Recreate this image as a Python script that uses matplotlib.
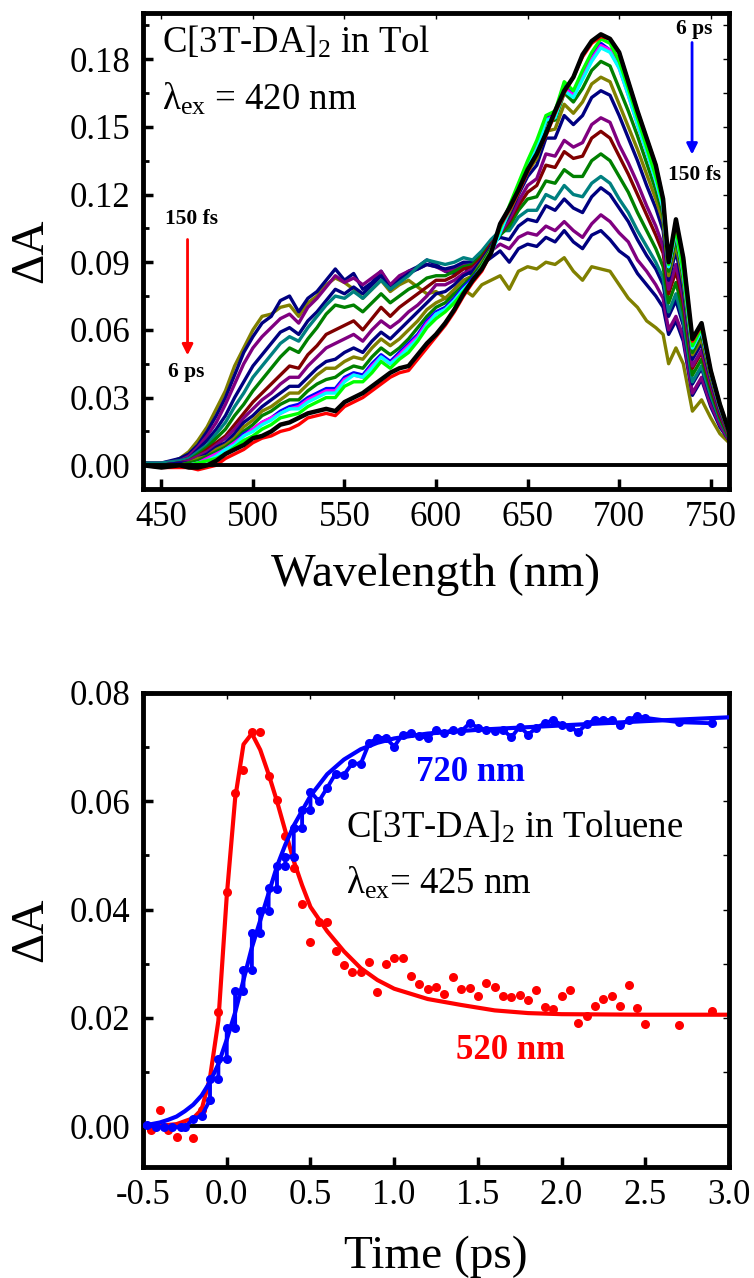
import matplotlib
matplotlib.use('Agg')
import matplotlib.pyplot as plt
from matplotlib.ticker import MultipleLocator, FormatStrFormatter

plt.rcParams['font.family'] = ['Liberation Serif', 'DejaVu Serif']
plt.rcParams['mathtext.fontset'] = 'custom'
plt.rcParams['mathtext.rm'] = 'Liberation Serif'
plt.rcParams['mathtext.it'] = 'Liberation Serif:italic'
plt.rcParams['axes.unicode_minus'] = False

# ---------------- transient spectra (top), values in mOD ----------------
wavelengths = [440, 450, 460, 465, 470, 475, 480, 485, 490, 495,
               500, 505, 510, 515, 520, 525, 530, 535, 540, 545,
               550, 555, 560, 565, 570, 575, 580, 585, 590, 595,
               600, 605, 610, 615, 620, 625, 630, 635, 640, 645,
               650, 655, 660, 665, 670, 675, 680, 685, 690, 695,
               700, 705, 710, 715, 720, 724, 727, 731, 735, 740, 745, 750, 755, 760]

s01_olive = [1, 0, 3, 6, 11, 17, 25, 33, 44, 52,
             60, 66, 67, 70, 71, 66, 72, 75, 80, 83,
             81, 78, 74, 78, 82, 77, 80, 82, 79, 76,
             77, 74, 76, 78, 75, 80, 82, 84, 78, 86,
             88, 87, 90, 89, 92, 86, 82, 88, 87, 86,
             80, 74, 70, 64, 61, 58, 45, 52, 45, 24, 29, 21, 14, 10]
s02_navy = [1, 1, 3, 5, 9, 15, 22, 30, 40, 50,
            57, 63, 66, 73, 75, 68, 74, 77, 82, 87,
            82, 85, 78, 81, 86, 79, 83, 86, 88, 91,
            89, 86, 85, 88, 84, 89, 92, 95, 90, 96,
            98, 97, 101, 99, 104, 99, 96, 102, 104, 100,
            95, 92, 85, 80, 75, 70, 58, 64, 55, 31, 38, 26, 17, 11]
s03_purple = [1, 1, 2, 4, 8, 13, 19, 27, 36, 45,
              52, 57, 61, 65, 67, 63, 70, 74, 79, 84,
              81, 83, 80, 83, 86, 80, 84, 86, 87, 89,
              88, 86, 87, 89, 88, 91, 95, 98, 96, 101,
              103, 102, 106, 104, 108, 104, 101, 107, 111, 108,
              103, 99, 91, 86, 80, 74, 60, 66, 57, 32, 39, 27, 18, 11]
s04_navy = [1, 0, 2, 3, 7, 11, 16, 22, 30, 37,
            44, 49, 54, 59, 61, 58, 64, 68, 73, 78,
            76, 79, 76, 80, 84, 78, 82, 85, 87, 89,
            88, 87, 88, 90, 90, 93, 98, 101, 100, 106,
            109, 108, 115, 113, 118, 114, 112, 119, 123, 120,
            114, 108, 100, 93, 87, 80, 66, 73, 62, 36, 43, 30, 20, 12]
s05_teal = [1, 1, 2, 3, 6, 9, 14, 19, 26, 32,
            39, 44, 49, 54, 57, 55, 61, 66, 71, 75,
            74, 77, 74, 78, 82, 78, 81, 84, 88, 91,
            90, 89, 90, 92, 91, 95, 100, 104, 104, 110,
            113, 113, 120, 118, 124, 120, 119, 125, 128, 125,
            118, 112, 104, 97, 90, 83, 68, 76, 64, 37, 44, 31, 20, 12]
s06_green = [0, 0, 1, 2, 5, 8, 12, 16, 22, 27,
             33, 38, 43, 48, 52, 50, 56, 61, 67, 71,
             70, 71, 68, 72, 76, 72, 75, 78, 80, 83,
             84, 84, 86, 88, 89, 93, 98, 102, 106, 113,
             118, 119, 126, 125, 131, 128, 128, 135, 138, 135,
             128, 121, 112, 104, 96, 88, 72, 81, 68, 40, 47, 33, 21, 12]
s07_wine = [0, 0, 1, 2, 4, 7, 10, 13, 18, 23,
            28, 32, 36, 40, 44, 43, 49, 53, 58, 60,
            62, 64, 60, 65, 70, 66, 70, 73, 76, 79,
            82, 82, 84, 87, 88, 92, 98, 103, 108, 115,
            121, 124, 133, 132, 139, 136, 137, 145, 148, 145,
            137, 129, 120, 111, 102, 94, 76, 86, 72, 43, 50, 35, 22, 13]
s08_purple = [0, 0, 1, 2, 4, 6, 9, 12, 16, 21,
              25, 29, 32, 36, 39, 39, 44, 48, 52, 54,
              56, 58, 55, 60, 64, 61, 64, 68, 71, 75,
              80, 80, 82, 85, 87, 91, 97, 103, 109, 117,
              124, 127, 138, 137, 144, 141, 143, 151, 154, 152,
              142, 134, 125, 115, 106, 97, 78, 89, 74, 44, 51, 36, 23, 13]
s09_navy = [0, 0, 1, 1, 3, 5, 8, 10, 14, 19,
            22, 26, 29, 32, 35, 35, 39, 43, 46, 47,
            50, 52, 50, 55, 59, 56, 60, 64, 68, 72,
            76, 77, 80, 84, 86, 91, 97, 104, 111, 120,
            128, 133, 145, 145, 155, 151, 155, 163, 166, 164,
            155, 145, 135, 124, 114, 104, 82, 95, 78, 47, 54, 38, 24, 14]
s10_olive = [0, 0, 0, 1, 3, 4, 7, 9, 12, 17,
             20, 24, 26, 29, 32, 32, 36, 40, 43, 43,
             46, 48, 47, 52, 56, 53, 56, 60, 64, 69,
             72, 74, 78, 82, 84, 90, 96, 104, 112, 121,
             130, 136, 148, 149, 160, 156, 161, 169, 172, 170,
             160, 150, 140, 129, 118, 108, 84, 98, 81, 49, 56, 39, 25, 14]
s11_green = [0, 0, 0, 1, 2, 4, 6, 8, 11, 15,
             18, 22, 24, 27, 29, 29, 33, 36, 38, 39,
             42, 44, 43, 48, 52, 49, 52, 56, 61, 66,
             70, 72, 76, 80, 84, 89, 96, 104, 113, 122,
             132, 139, 152, 153, 165, 161, 167, 175, 179, 177,
             167, 157, 146, 134, 122, 111, 86, 101, 83, 50, 58, 40, 26, 14]
s12_blue = [0, 0, 0, 0, 1, 3, 5, 7, 10, 14,
            16, 19, 21, 24, 26, 27, 30, 32, 34, 34,
            39, 41, 40, 45, 49, 46, 50, 54, 58, 64,
            68, 70, 74, 79, 83, 88, 95, 104, 114, 123,
            133, 141, 154, 155, 168, 164, 172, 181, 187, 184,
            177, 165, 152, 140, 127, 115, 88, 104, 85, 52, 60, 41, 26, 15]
s13_magenta = [0, 0, 0, 0, 1, 3, 5, 7, 10, 13,
               16, 19, 21, 23, 25, 26, 29, 31, 33, 33,
               38, 40, 39, 44, 48, 45, 49, 53, 57, 63,
               67, 69, 73, 78, 82, 88, 95, 104, 114, 123,
               133, 141, 153, 155, 167, 164, 172, 180, 186, 184,
               176, 164, 151, 139, 126, 114, 88, 104, 85, 52, 60, 41, 26, 15]
s14_cyan = [0, 0, 0, 0, 1, 2, 4, 7, 9, 13,
            15, 18, 20, 23, 25, 25, 28, 30, 32, 32,
            37, 40, 39, 43, 48, 45, 48, 52, 56, 62,
            67, 69, 73, 78, 82, 87, 94, 103, 113, 123,
            133, 140, 153, 154, 166, 163, 171, 179, 185, 183,
            176, 164, 151, 139, 126, 114, 88, 104, 85, 52, 60, 41, 26, 15]
s15_lime = [0, 0, 0, 0, 1, 2, 3, 5, 8, 11,
            13, 16, 18, 21, 22, 23, 26, 28, 30, 30,
            35, 37, 37, 41, 46, 43, 47, 50, 55, 61,
            65, 68, 72, 77, 82, 88, 95, 105, 115, 125,
            135, 144, 155, 157, 170, 166, 175, 183, 189, 187,
            179, 167, 154, 141, 128, 116, 89, 105, 86, 53, 61, 42, 27, 15]
s16_red = [0, -1, -1, -1, -2, -1, 0, 3, 5, 7,
           10, 12, 13, 15, 16, 18, 21, 22, 23, 22,
           26, 28, 30, 33, 36, 39, 41, 42, 47, 52,
           57, 62, 68, 75, 81, 86, 94, 106, 113, 121,
           130, 138, 146, 156, 165, 172, 181, 187, 190, 189,
           183, 170, 157, 145, 133, 118, 90, 108, 92, 55, 62, 42, 27, 15]
s17_black = [0, -1, 0, -1, -1, 0, 2, 5, 7, 9,
             12, 13, 15, 18, 19, 21, 23, 24, 25, 24,
             28, 30, 32, 35, 38, 41, 43, 44, 49, 54,
             58, 63, 69, 76, 82, 87, 94, 107, 114, 122,
             131, 138, 147, 157, 166, 172, 182, 188, 191, 189,
             183, 170, 157, 145, 133, 118, 90, 109, 92, 56, 63, 42, 27, 15]

spectra = [s01_olive, s02_navy, s03_purple, s04_navy, s05_teal, s06_green,
           s07_wine, s08_purple, s09_navy, s10_olive, s11_green, s12_blue,
           s13_magenta, s14_cyan, s15_lime, s16_red, s17_black]
spec_colors = ['#808000', '#000080', '#800080', '#000080', '#008080', '#008000',
               '#800000', '#800080', '#000080', '#808000', '#008000', '#0000FF',
               '#FF00FF', '#00FFFF', '#00FF00', '#FF0000', '#000000']

# ---------------- kinetics (bottom), values in mOD ----------------
t_520 = [-0.45, -0.40, -0.35, -0.30, -0.20, -0.15, -0.05, 0.00, 0.05, 0.10,
         0.15, 0.20, 0.25, 0.30, 0.35, 0.40, 0.45, 0.50, 0.55, 0.60,
         0.65, 0.70, 0.75, 0.80, 0.85, 0.90, 0.95, 1.00, 1.05, 1.10,
         1.15, 1.20, 1.25, 1.30, 1.35, 1.40, 1.45, 1.50, 1.55, 1.60,
         1.65, 1.70, 1.75, 1.80, 1.85, 1.90, 1.95, 2.00, 2.05, 2.10,
         2.15, 2.20, 2.25, 2.30, 2.35, 2.40, 2.45, 2.50, 2.70, 2.90]
dA_520 = [-0.7, 3.1, -0.6, -1.9, -2.1, 3.0, 21.1, 43.3, 61.5, 65.8,
          72.7, 72.7, 64.6, 60.2, 53.5, 47.6, 41.1, 34.0, 37.8, 37.7,
          32.3, 29.8, 28.5, 28.5, 30.3, 24.8, 30.0, 31.0, 31.0, 27.8,
          26.3, 25.4, 25.7, 24.4, 27.5, 25.4, 25.5, 24.1, 26.5, 25.7,
          24.1, 23.8, 24.3, 23.4, 25.1, 22.0, 21.7, 24.0, 25.2, 19.1,
          20.3, 22.2, 23.5, 24.0, 22.3, 26.1, 21.8, 18.9, 18.7, 21.2]

fit_t_520 = [-0.5, -0.4, -0.3, -0.2, -0.15, -0.1, -0.05, 0.0, 0.05, 0.1,
             0.15, 0.2, 0.25, 0.3, 0.35, 0.4, 0.45, 0.5, 0.6, 0.7,
             0.8, 0.9, 1.0, 1.2, 1.4, 1.6, 1.8, 2.0, 2.5, 3.0]
fit_520 = [0.0, 0.1, 0.4, 1.5, 3.1, 9.0, 19.5, 42.5, 60.5, 70.5,
           72.5, 69.5, 65.0, 60.0, 54.5, 49.0, 44.5, 40.5, 36.0, 32.3,
           29.2, 27.0, 25.4, 23.5, 22.4, 21.4, 20.9, 20.7, 20.6, 20.6]

t_720 = [-0.475, -0.425, -0.375, -0.325, -0.275, -0.25, -0.20, -0.15, -0.10, -0.10,
         -0.05, -0.05, 0.00, 0.00, 0.05, 0.05, 0.10, 0.10, 0.15, 0.15,
         0.20, 0.20, 0.25, 0.25, 0.30, 0.30, 0.35, 0.35, 0.40, 0.40,
         0.45, 0.45, 0.50, 0.50, 0.55, 0.60, 0.65, 0.70, 0.75, 0.80,
         0.85, 0.90, 0.95, 1.00, 1.05, 1.10, 1.15, 1.20, 1.25, 1.30,
         1.35, 1.40, 1.45, 1.50, 1.55, 1.60, 1.65, 1.70, 1.75, 1.80,
         1.85, 1.90, 1.95, 2.00, 2.05, 2.10, 2.15, 2.20, 2.25, 2.30,
         2.35, 2.40, 2.45, 2.50, 2.70, 2.90]
dA_720 = [0.2, -0.1, -0.2, -0.1, -0.2, -0.2, 1.4, 1.9, 4.9, 8.8,
          8.8, 12.4, 12.4, 18.1, 18.1, 25.0, 25.0, 28.9, 28.9, 35.6,
          35.6, 39.7, 39.7, 43.9, 43.8, 48.1, 48.1, 49.8, 49.8, 55.1,
          55.1, 58.4, 58.4, 61.8, 60.0, 62.5, 65.1, 64.9, 67.0, 66.9,
          70.7, 71.7, 71.7, 70.1, 72.3, 72.6, 72.0, 71.7, 73.2, 72.6,
          73.2, 72.9, 74.4, 73.6, 73.2, 73.0, 73.2, 71.8, 73.8, 72.3,
          73.6, 74.4, 75.0, 74.1, 73.7, 72.8, 74.3, 75.0, 75.0, 75.0,
          74.1, 75.0, 75.7, 75.4, 74.6, 74.4]

fit_t_720 = [-0.5, -0.45, -0.4, -0.35, -0.3, -0.25, -0.2, -0.15, -0.1, -0.05,
             0.0, 0.05, 0.1, 0.15, 0.2, 0.25, 0.3, 0.35, 0.4, 0.5,
             0.6, 0.7, 0.8, 0.9, 1.0, 1.2, 1.5, 2.0, 2.5, 3.0]
fit_720 = [0.1, 0.4, 0.7, 1.2, 1.8, 2.8, 4.0, 5.7, 8.2, 11.5,
           16.0, 21.0, 27.0, 33.0, 38.0, 43.0, 48.0, 52.0, 55.5, 61.0,
           65.0, 67.7, 69.6, 70.8, 71.6, 72.5, 73.2, 74.0, 74.8, 75.5]

# ---------------- figure ----------------
fig = plt.figure(figsize=(7.54, 12.78), dpi=100)
ax1 = fig.add_axes([0.1897, 0.6174, 0.7772, 0.3727])
ax2 = fig.add_axes([0.1897, 0.0869, 0.7772, 0.3709])

for vals, col in zip(spectra, spec_colors):
    lw = 3.2 if col == '#000000' else 2.4
    ax1.plot(wavelengths, [v / 1000 for v in vals], color=col, lw=lw)
ax1.axhline(0, color='k', lw=2.8, zorder=3)

ax1.set_xlim(440, 760)
ax1.set_ylim(-0.0105, 0.2006)
ax1.xaxis.set_major_locator(MultipleLocator(50))
ax1.yaxis.set_major_locator(MultipleLocator(0.03))
ax1.yaxis.set_minor_locator(MultipleLocator(0.015))
ax1.yaxis.set_major_formatter(FormatStrFormatter('%.2f'))
ax1.set_xlabel('Wavelength (nm)', fontsize=34)
ax1.set_ylabel('ΔA', fontsize=34)
ax1.xaxis.set_label_coords(0.5, -0.135)
ax1.yaxis.set_label_coords(-0.155, 0.5)

ax1.text(450.5, 0.1829, 'C[3T-DA]$_2$ in Tol', fontsize=26.5)
ax1.text(450.5, 0.1576, 'λ$_{\\rm ex}$ = 420 nm', fontsize=26.5)
ax1.text(466.3, 0.1092, '150 fs', fontsize=15.5, fontweight='bold', ha='center', va='center')
ax1.text(463.7, 0.0413, '6 ps', fontsize=15.5, fontweight='bold', ha='center', va='center')
ax1.annotate('', xy=(464.3, 0.0475), xytext=(464.3, 0.1013),
             arrowprops=dict(arrowstyle='-|>', color='#FF0000', lw=2, mutation_scale=16))
ax1.text(741, 0.1935, '6 ps', fontsize=15.5, fontweight='bold', ha='center', va='center')
ax1.text(741.2, 0.1287, '150 fs', fontsize=15.5, fontweight='bold', ha='center', va='center')
ax1.annotate('', xy=(739.8, 0.1365), xytext=(739.8, 0.1886),
             arrowprops=dict(arrowstyle='-|>', color='#0000FF', lw=2, mutation_scale=16))

# bottom panel
ax2.axhline(0, color='k', lw=2.8, zorder=1)
ax2.plot(fit_t_520, [v / 1000 for v in fit_520], color='#FF0000', lw=3, zorder=2)
ax2.plot(t_520, [v / 1000 for v in dA_520], 'o', color='#FF0000', ms=6.5, mew=0, zorder=3)
ax2.plot(fit_t_720, [v / 1000 for v in fit_720], color='#0000FF', lw=3, zorder=4)
ax2.plot(t_720, [v / 1000 for v in dA_720], '-o', color='#0000FF', lw=2.8, ms=6.5, mew=0, zorder=5)

ax2.set_xlim(-0.5, 3.0)
ax2.set_ylim(-0.0075, 0.08)
ax2.xaxis.set_major_locator(MultipleLocator(0.5))
ax2.yaxis.set_major_locator(MultipleLocator(0.02))
ax2.yaxis.set_minor_locator(MultipleLocator(0.01))
ax2.xaxis.set_major_formatter(FormatStrFormatter('%.1f'))
ax2.yaxis.set_major_formatter(FormatStrFormatter('%.2f'))
ax2.set_xlabel('Time (ps)', fontsize=34)
ax2.set_ylabel('ΔA', fontsize=34)
ax2.xaxis.set_label_coords(0.5, -0.145)
ax2.yaxis.set_label_coords(-0.155, 0.5)

ax2.text(1.458, 0.0637, '720 nm', fontsize=25, fontweight='bold', color='#0000FF', ha='center')
ax2.text(0.714, 0.0533, 'C[3T-DA]$_2$ in Toluene', fontsize=26.5)
ax2.text(0.714, 0.0430, 'λ$_{\\rm ex}$= 425 nm', fontsize=26.5)
ax2.text(1.693, 0.0124, '520 nm', fontsize=25, fontweight='bold', color='#FF0000', ha='center')

for ax in (ax1, ax2):
    for sp in ax.spines.values():
        sp.set_linewidth(3.5)
    ax.tick_params(which='major', direction='in', length=7, width=2.5, labelsize=25, pad=9)
    ax.tick_params(which='minor', direction='in', length=4, width=2)
    ax.tick_params(axis='x', which='minor', bottom=False)
    ax.tick_params(which='both', top=True, right=True)
    # faint grey ticks on the top and right frame
    for tk in (ax.xaxis.get_major_ticks() + ax.yaxis.get_major_ticks()
               + ax.yaxis.get_minor_ticks()):
        tk.tick2line.set_color('0.55')
        tk.tick2line.set_markersize(4)
        tk.tick2line.set_markeredgewidth(1)

fig.savefig('out.png', dpi=100)
